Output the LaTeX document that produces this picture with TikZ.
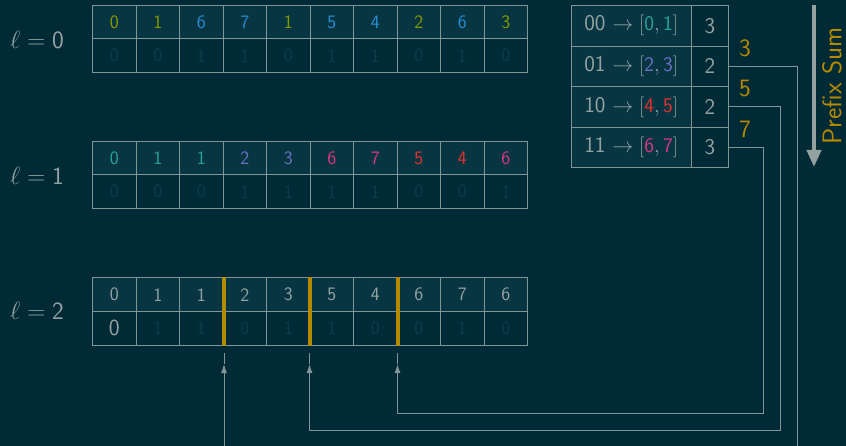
\documentclass[tikz,border=0pt]{standalone}
\usetikzlibrary{arrows.meta}
\definecolor{bgc}{HTML}{002B36}
\definecolor{basetwo}{HTML}{073642}
\definecolor{gr}{HTML}{93A1A1}
\definecolor{ln}{HTML}{839496}
\definecolor{faint}{HTML}{0C3C49}
\definecolor{sy}{HTML}{B58900}
\definecolor{sg}{HTML}{859900}
\definecolor{sb}{HTML}{268BD2}
\definecolor{sc}{HTML}{2AA198}
\definecolor{sv}{HTML}{6C71C4}
\definecolor{sm}{HTML}{D33682}
\definecolor{sr}{HTML}{DC322F}
\tikzset{
  topcell/.style={draw=ln, line width=1pt, fill=basetwo, minimum width=43.5pt, minimum height=33.5pt,
    inner sep=0pt, anchor=north west, font=\fontsize{19}{21}\selectfont\sffamily},
  botcell/.style={topcell, fill=bgc, text=faint},
  lvl/.style={text=gr, font=\fontsize{26}{28}\selectfont\sffamily},
  tabl/.style={draw=ln, line width=1pt, fill=basetwo, minimum width=120pt, minimum height=40.6pt,
    inner sep=0pt, anchor=north west, text=gr, font=\fontsize{22.5}{24}\selectfont\sffamily},
  tabr/.style={tabl, fill=bgc, minimum width=37.3pt},
  gold/.style={text=sy, font=\fontsize{25}{27}\selectfont\sffamily},
  conn/.style={draw=ln, line width=1pt},
  sep/.style={draw=sy, line width=4pt},
  tip/.style={-{Latex[length=9pt,width=6pt]}}
}
\begin{document}
\begin{tikzpicture}[x=1pt,y=-1pt]
\fill[bgc] (0,0) rectangle (846,446);
\useasboundingbox (0,0) rectangle (846,446);
% level labels
\node[lvl] (l0) at (37,40) {$\ell = \mathsf{0}$};
\node[lvl] (l1) at (37,176) {$\ell = \mathsf{1}$};
\node[lvl] (l2) at (37,311) {$\ell = \mathsf{2}$};
% level 0
\foreach \i/\v/\c/\b in {0/0/sg/0,1/1/sg/0,2/6/sb/1,3/7/sb/1,4/1/sg/0,5/5/sb/1,6/4/sb/1,7/2/sg/0,8/6/sb/1,9/3/sg/0}{
  \node[topcell, text=\c] (ta\i) at ({92+43.5*\i},5) {\v};
  \node[botcell] (ba\i) at ({92+43.5*\i},38.5) {\b};
}
% level 1
\foreach \i/\v/\c/\b in {0/0/sc/0,1/1/sc/0,2/1/sc/0,3/2/sv/1,4/3/sv/1,5/6/sm/1,6/7/sm/1,7/5/sr/0,8/4/sr/0,9/6/sm/1}{
  \node[topcell, text=\c] (tb\i) at ({92+43.5*\i},141) {\v};
  \node[botcell] (bb\i) at ({92+43.5*\i},174.5) {\b};
}
% level 2
\foreach \i/\v in {0/0,1/1,2/1,3/2,4/3,5/5,6/4,7/6,8/7,9/6}{
  \node[topcell, text=gr] (tc\i) at ({92+43.5*\i},277.5) {\v};
}
\node[botcell, text=gr, font=\fontsize{23}{25}\selectfont\sffamily] (bc0) at (92,311) {0};
\foreach \i/\b in {1/1,2/1,3/0,4/1,5/1,6/0,7/0,8/1,9/0}{
  \node[botcell] (bc\i) at ({92+43.5*\i},311) {\b};
}
% separators
\draw[sep] ([xshift=1.5pt]tc3.north west) -- ([xshift=1.5pt]bc3.south west);
\draw[sep] ([xshift=0pt]tc5.north west) -- ([xshift=0pt]bc5.south west);
\draw[sep] ([xshift=1pt]tc7.north west) -- ([xshift=1pt]bc7.south west);
% table
\node[tabl] (k0) at (570.7,5) {00 $\rightarrow [\textcolor{sc}{\mathsf{0}}, \textcolor{sc}{\mathsf{1}}]$};
\node[tabl] (k1) at (570.7,45.6) {01 $\rightarrow [\textcolor{sv}{\mathsf{2}}, \textcolor{sv}{\mathsf{3}}]$};
\node[tabl] (k2) at (570.7,86.2) {10 $\rightarrow [\textcolor{sr}{\mathsf{4}}, \textcolor{sr}{\mathsf{5}}]$};
\node[tabl] (k3) at (570.7,126.8) {11 $\rightarrow [\textcolor{sm}{\mathsf{6}}, \textcolor{sm}{\mathsf{7}}]$};
\node[tabr] (c0) at (690.7,5) {3};
\node[tabr] (c1) at (690.7,45.6) {2};
\node[tabr] (c2) at (690.7,86.2) {2};
\node[tabr] (c3) at (690.7,126.8) {3};
% prefix sums
\node[gold] (s1) at (745,48) {3};
\node[gold] (s2) at (745,89) {5};
\node[gold] (s3) at (745,129) {7};
% prefix sum arrow
\coordinate (pa) at (814,5);
\coordinate (pb) at (814,167);
\draw[draw=gr, line width=4pt, -{Triangle[length=17pt,width=14pt]}] (pa) -- (pb);
\node[gold, rotate=90, font=\fontsize{27}{29}\selectfont\sffamily] (ps) at (832,86) {Prefix Sum};
% connectors
\coordinate (e1) at (797,446);
\coordinate (k2c) at (780,430);
\coordinate (k3c) at (763,413);
\coordinate (h1) at (224,364);
\coordinate (h2) at (309.5,364);
\coordinate (h3) at (397.5,364);
\coordinate (p1) at (224,352.5);
\coordinate (p2) at (309.5,352.5);
\coordinate (p3) at (397.5,352.5);
\coordinate (f1) at (224,446);
\draw[conn] (c1.east) -| (e1);
\draw[conn, tip] (c2.east) -| (k2c) -| (h2);
\draw[conn] (h2) -- (p2);
\draw[conn, tip] (c3.east) -| (k3c) -| (h3);
\draw[conn] (h3) -- (p3);
\draw[conn, tip] (f1) -- (h1);
\draw[conn] (h1) -- (p1);
\end{tikzpicture}
\end{document}
